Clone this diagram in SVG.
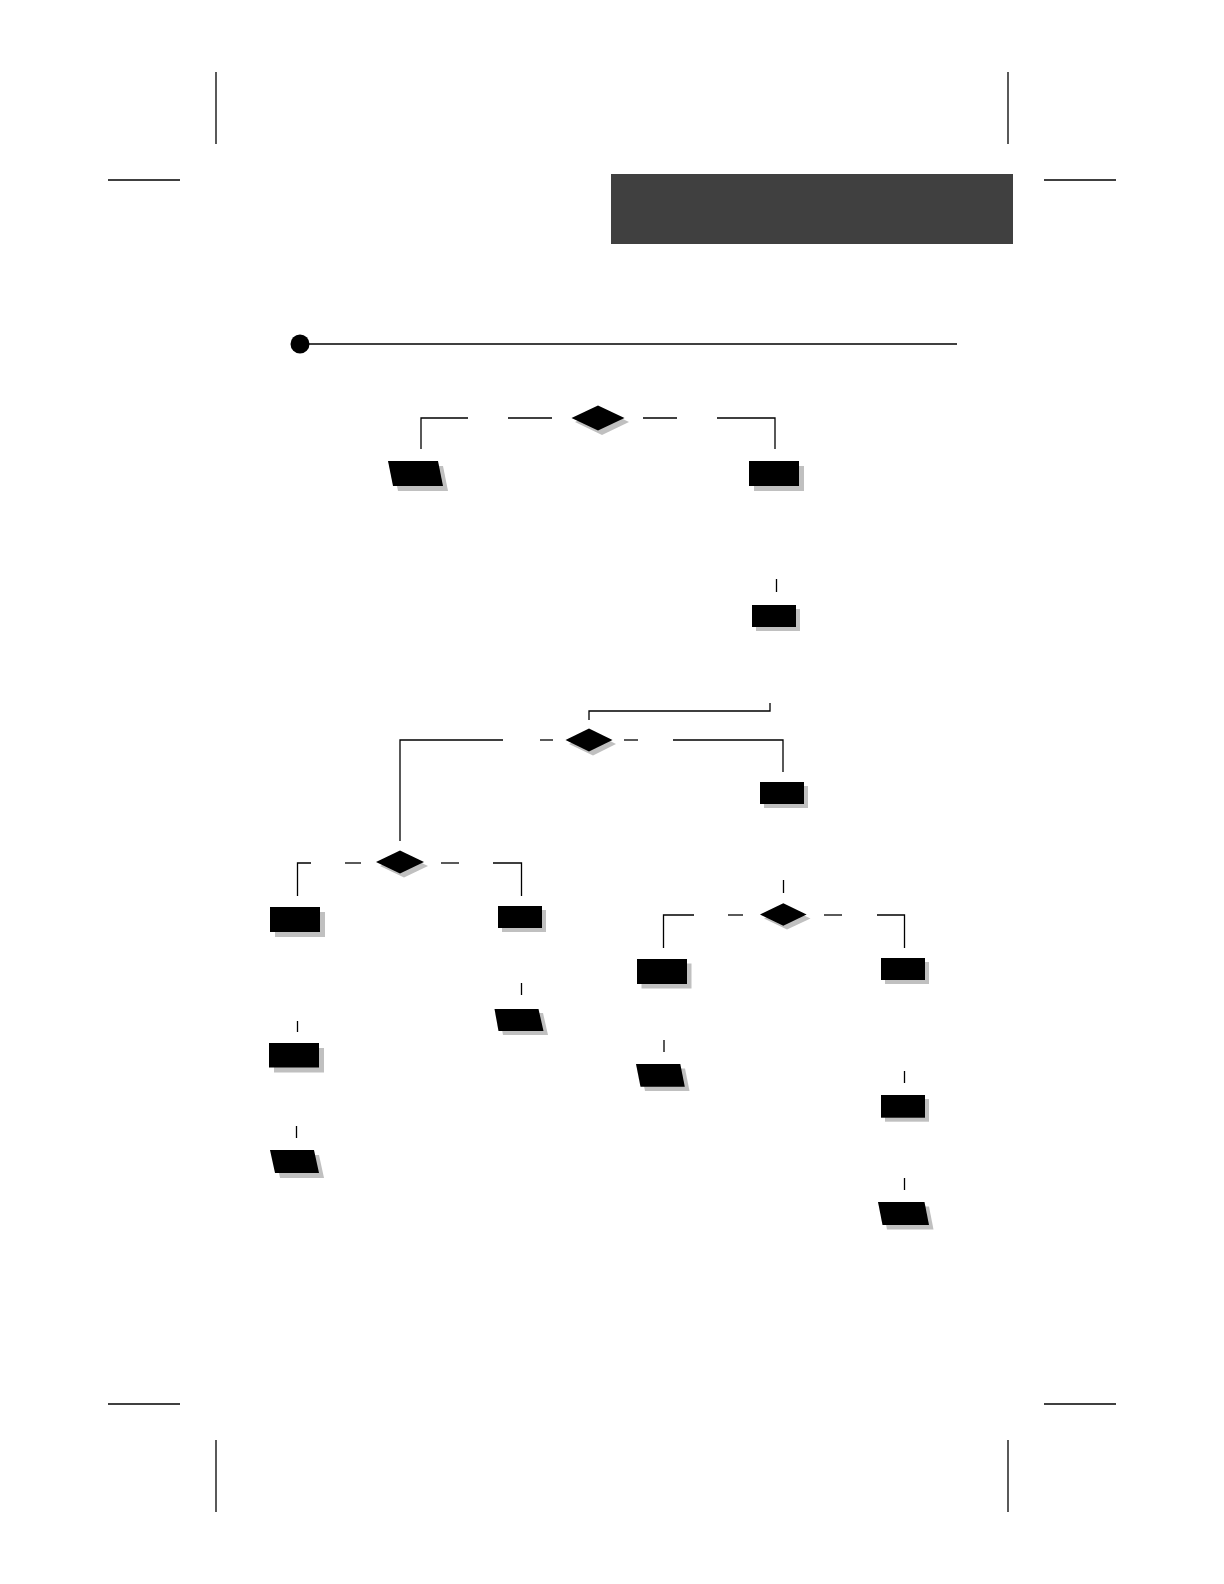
<svg xmlns="http://www.w3.org/2000/svg" width="1224" height="1584" viewBox="0 0 1224 1584">
<style>
.bg{fill:#ffffff}
.crop{stroke:#000;stroke-width:1.3;fill:none}
.ln{stroke:#000;stroke-width:1.3;fill:none}
.sh{fill:#c0c0c0}
.nd{fill:#000}
</style>
<rect class="bg" x="0" y="0" width="1224" height="1584"/>
<g id="crop-marks">
<line class="crop" x1="216" y1="72" x2="216" y2="144"/>
<line class="crop" x1="108" y1="180" x2="180" y2="180"/>
<line class="crop" x1="1008" y1="72" x2="1008" y2="144"/>
<line class="crop" x1="1044" y1="180" x2="1116" y2="180"/>
<line class="crop" x1="108" y1="1404" x2="180" y2="1404"/>
<line class="crop" x1="216" y1="1440" x2="216" y2="1512"/>
<line class="crop" x1="1044" y1="1404" x2="1116" y2="1404"/>
<line class="crop" x1="1008" y1="1440" x2="1008" y2="1512"/>
</g>
<g id="header">
<rect x="611" y="174" width="402" height="70" fill="#404040"/>
</g>
<g id="rule">
<circle cx="300" cy="344" r="9.5" fill="#000"/>
<line class="ln" x1="300" y1="344" x2="957" y2="344" stroke-width="1.5"/>
</g>
<g id="connectors">
<polyline class="ln" points="421,449 421,418 468,418"/>
<line class="ln" x1="508" y1="418" x2="552" y2="418"/>
<line class="ln" x1="643" y1="418" x2="677" y2="418"/>
<polyline class="ln" points="717,418 775,418 775,449"/>
<line class="ln" x1="776.5" y1="579" x2="776.5" y2="592"/>
<polyline class="ln" points="770,703 770,711 589,711 589,720"/>
<line class="ln" x1="540" y1="740" x2="553" y2="740"/>
<polyline class="ln" points="400,841 400,740 503,740"/>
<line class="ln" x1="624" y1="740" x2="638" y2="740"/>
<polyline class="ln" points="673,740 783,740 783,772"/>
<polyline class="ln" points="297.5,896 297.5,863 311,863"/>
<line class="ln" x1="345" y1="863" x2="361" y2="863"/>
<line class="ln" x1="441" y1="863" x2="459" y2="863"/>
<polyline class="ln" points="493,863 521.5,863 521.5,896"/>
<line class="ln" x1="521.5" y1="983" x2="521.5" y2="995"/>
<line class="ln" x1="297.5" y1="1021" x2="297.5" y2="1032"/>
<line class="ln" x1="296.5" y1="1126" x2="296.5" y2="1138"/>
<line class="ln" x1="783.5" y1="880" x2="783.5" y2="893"/>
<polyline class="ln" points="663.5,948 663.5,915 694,915"/>
<line class="ln" x1="728" y1="915" x2="743" y2="915"/>
<line class="ln" x1="824" y1="915" x2="842" y2="915"/>
<polyline class="ln" points="877,915 904.5,915 904.5,948"/>
<line class="ln" x1="664" y1="1040" x2="664" y2="1052"/>
<line class="ln" x1="904.5" y1="1071" x2="904.5" y2="1083"/>
<line class="ln" x1="904.5" y1="1178" x2="904.5" y2="1190"/>
</g>
<g id="d1">
<polygon class="sh" points="575,422 602,409 629,422 602,435"/>
<polygon class="nd" points="571.5,418 598,405.5 624.5,418 598,430.5"/>
</g>
<g id="p1">
<polygon class="sh" points="393,466 443,466 448,491 398,491"/>
<polygon class="nd" points="388,461 438,461 443,486 393,486"/>
</g>
<g id="r1">
<rect class="sh" x="754" y="466" width="50" height="25"/>
<rect class="nd" x="749" y="461" width="50" height="25"/>
</g>
<g id="r2">
<rect class="sh" x="756" y="609" width="44" height="22"/>
<rect class="nd" x="752" y="605" width="44" height="22"/>
</g>
<g id="d2">
<polygon class="sh" points="569,744 593,732.5 616,744 593,755.5"/>
<polygon class="nd" points="565.5,740 589,728.5 612.5,740 589,751.5"/>
</g>
<g id="r3">
<rect class="sh" x="764" y="786" width="44" height="22"/>
<rect class="nd" x="760" y="782" width="44" height="22"/>
</g>
<g id="d3">
<polygon class="sh" points="380,866 404,854.5 428,866 404,877.5"/>
<polygon class="nd" points="376,862 400,850.5 424,862 400,873.5"/>
</g>
<g id="r4">
<rect class="sh" x="275" y="912" width="50" height="25"/>
<rect class="nd" x="270" y="907" width="50" height="25"/>
</g>
<g id="r5">
<rect class="sh" x="502" y="910" width="44" height="22"/>
<rect class="nd" x="498" y="906" width="44" height="22"/>
</g>
<g id="p2">
<polygon class="sh" points="499,1013 543,1013 548,1035 503,1035"/>
<polygon class="nd" points="494.5,1009 538.5,1009 543.5,1031 498.5,1031"/>
</g>
<g id="r6">
<rect class="sh" x="274" y="1048" width="50" height="24.5"/>
<rect class="nd" x="269" y="1043" width="50" height="24.5"/>
</g>
<g id="p3">
<polygon class="sh" points="275,1155 319,1155 324,1178 280,1178"/>
<polygon class="nd" points="270,1150 314,1150 319,1173 275,1173"/>
</g>
<g id="d4">
<polygon class="sh" points="764,918.5 787,907.5 810.5,918.5 787,929.5"/>
<polygon class="nd" points="760,914.5 783.3,903.3 806.6,914.5 783.3,925.7"/>
</g>
<g id="r7">
<rect class="sh" x="641.5" y="963.5" width="50" height="25"/>
<rect class="nd" x="637" y="959" width="50" height="25"/>
</g>
<g id="r8">
<rect class="sh" x="885" y="962" width="44" height="22"/>
<rect class="nd" x="881" y="958" width="44" height="22"/>
</g>
<g id="p4">
<polygon class="sh" points="640.5,1068.5 685,1068.5 689.5,1091 645,1091"/>
<polygon class="nd" points="636,1064 680.3,1064 684.8,1086.7 640.5,1086.7"/>
</g>
<g id="r9">
<rect class="sh" x="885" y="1099" width="44" height="22.7"/>
<rect class="nd" x="881" y="1095" width="44" height="22.7"/>
</g>
<g id="p5">
<polygon class="sh" points="882.5,1206.5 929,1206.5 933.5,1229.5 887,1229.5"/>
<polygon class="nd" points="878,1202 924.5,1202 929,1225 882.5,1225"/>
</g>
</svg>
